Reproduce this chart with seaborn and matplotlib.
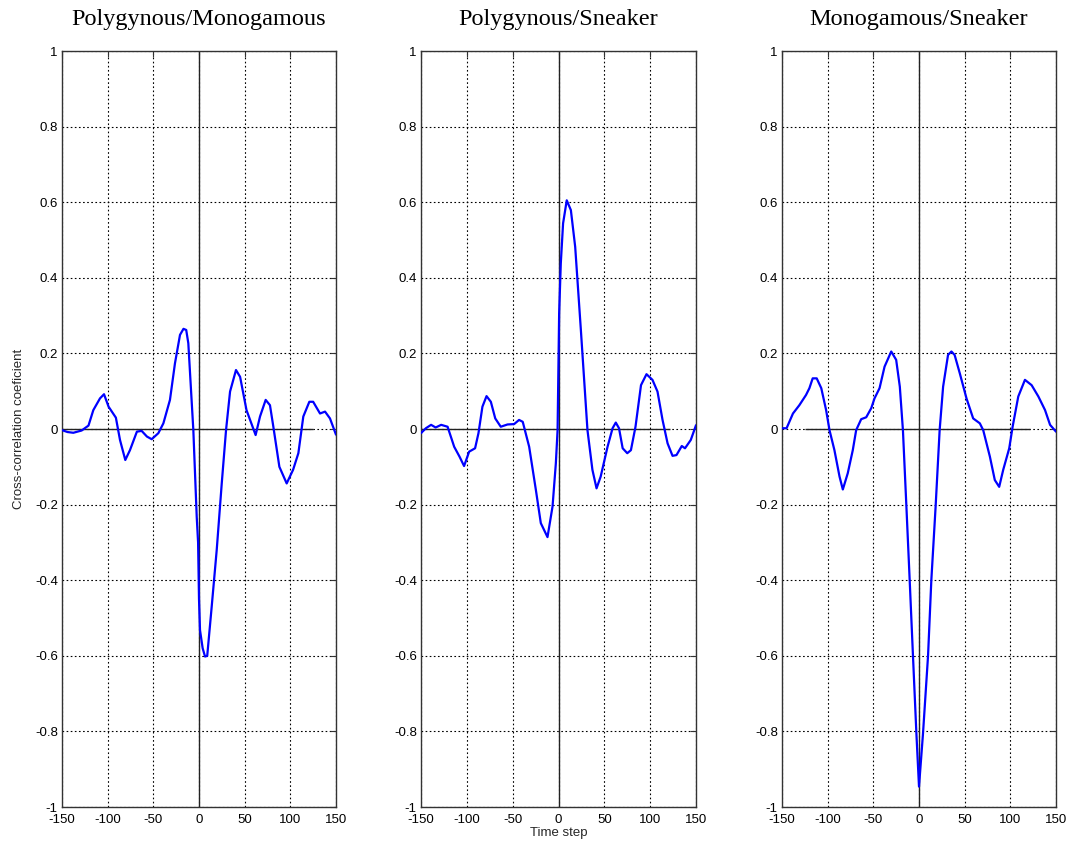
import numpy as np
import pandas as pd
import matplotlib
matplotlib.use("Agg")
import matplotlib.pyplot as plt
import seaborn as sns

# ---------------- data ----------------
titles = ["Polygynous/Monogamous", "Polygynous/Sneaker", "Monogamous/Sneaker"]

t_pm = [-150, -144, -137.6, -128.5, -121, -115.7, -108.4, -104, -99, -91, -86.5, -80.7,
        -75.6, -68, -62.8, -57, -51.8, -44.5, -39, -31.8, -26.3, -20.8, -17, -14, -11.7,
        -6.2, -2.5, -1, 0, 1.1, 4, 6.6, 9, 13.9, 19.4, 24.9, 29.6, 34, 40.5, 45, 52, 62,
        66.8, 73, 77.7, 81.4, 88, 96, 103, 108.8, 114.2, 120.8, 125, 132.5, 138, 143.4, 150]
v_pm = [-0.003, -0.008, -0.010, -0.004, 0.009, 0.05, 0.081, 0.092, 0.059, 0.03, -0.029, -0.082,
        -0.056, -0.007, -0.005, -0.02, -0.027, -0.011, 0.015, 0.077, 0.174, 0.249, 0.265, 0.262, 0.227,
        -0.003, -0.232, -0.30, -0.45, -0.532, -0.58, -0.602, -0.60, -0.47, -0.32, -0.144, -0.003, 0.099,
        0.156, 0.138, 0.05, -0.016, 0.033, 0.077, 0.063, 0.006, -0.1, -0.144, -0.108, -0.064, 0.033,
        0.072, 0.072, 0.041, 0.046, 0.028, -0.015]

t_ps = [-150, -144.7, -139, -134, -128, -121, -113.8, -108, -103, -97.5, -91, -87.3, -83, -78.5,
        -73.8, -69, -63, -55.6, -48.4, -43, -39, -32, -24.7, -19.3, -12, -6.5, -2.9, -1, 0.7, 2.5,
        5, 9, 13.5, 18.2, 24.4, 31.6, 37, 41.5, 46, 53.5, 59, 62.5, 66, 70, 75, 79, 84, 90, 96,
        102.5, 108, 113.5, 119, 124.4, 128.7, 134.5, 138, 144.3, 150]
v_ps = [-0.011, 0.002, 0.011, 0.004, 0.011, 0.006, -0.047, -0.073, -0.098, -0.06, -0.051, -0.011,
        0.059, 0.087, 0.072, 0.028, 0.006, 0.012, 0.013, 0.024, 0.019, -0.047, -0.161, -0.249,
        -0.286, -0.205, -0.091, -0.003, 0.306, 0.438, 0.544, 0.605, 0.579, 0.482, 0.262, -0.003,
        -0.108, -0.157, -0.126, -0.047, 0.002, 0.017, 0.002, -0.051, -0.064, -0.056, 0.006, 0.116,
        0.145, 0.13, 0.099, 0.024, -0.038, -0.071, -0.069, -0.045, -0.051, -0.029, 0.010]

t_ms = [-150, -145, -138, -131, -123.7, -120, -116.4, -112, -107, -101.7, -98, -92.6, -87, -83.4,
        -78, -72.5, -68.8, -63.3, -57.8, -52.3, -48.7, -43.2, -37.7, -30.4, -25, -21, -17.6, -13.8,
        -10.2, -6.6, -2.9, 0, 4.4, 9.9, 13.5, 18.2, 22.6, 26.4, 31.8, 35.5, 39, 44.7, 52, 59.3,
        66.6, 70.3, 77.6, 83, 87.8, 92.2, 98.8, 102.5, 108.7, 116, 123.3, 130.7, 138, 143.5, 150]
v_ms = [0.002, 0.002, 0.041, 0.063, 0.09, 0.108, 0.134, 0.134, 0.108, 0.05, -0.003, -0.056, -0.126,
        -0.16, -0.117, -0.056, -0.003, 0.026, 0.031, 0.055, 0.081, 0.108, 0.165, 0.205, 0.183, 0.112,
        -0.003, -0.205, -0.4, -0.6, -0.803, -0.946, -0.805, -0.6, -0.4, -0.205, -0.003, 0.112, 0.196,
        0.205, 0.196, 0.147, 0.081, 0.028, 0.015, -0.003, -0.073, -0.135, -0.153, -0.108, -0.051,
        0.006, 0.086, 0.13, 0.116, 0.086, 0.05, 0.011, -0.007]

zero_spans = [(-150, 125), (-150, 122), (-125, 122)]

x_ticks = [-150, -100, -50, 0, 50, 100, 150]
y_ticks = [-1, -0.8, -0.6, -0.4, -0.2, 0, 0.2, 0.4, 0.6, 0.8, 1]

series = [(t_pm, v_pm), (t_ps, v_ps), (t_ms, v_ms)]

# ---------------- figure ----------------
sns.set_style("white")
plt.rcParams['font.family'] = ['Liberation Sans', 'DejaVu Sans']

W, H = 1079, 842
fig = plt.figure(figsize=(W / 100, H / 100), dpi=100)

lefts = [62, 421, 782]
widths = [274, 275, 274]
top_px, bot_px = 51, 807

for i, ((tx, vy), title) in enumerate(zip(series, titles)):
    ax = fig.add_axes([lefts[i] / W, (H - bot_px) / H, widths[i] / W, (bot_px - top_px) / H])
    df = pd.DataFrame({"t": tx, "v": vy})
    ax.set_xlim(-150, 150)
    ax.set_ylim(-1, 1)
    ax.set_xticks(x_ticks)
    ax.set_yticks(y_ticks)
    ax.set_xticklabels([f"{x:g}" for x in x_ticks])
    ax.set_yticklabels([f"{y:g}" for y in y_ticks])
    ax.grid(True, linestyle=(0, (1.5, 2.2)), color="black", linewidth=0.8)
    ax.set_axisbelow(True)
    ax.axvline(0, color="#222222", linewidth=1.0, zorder=2)
    ax.hlines(0, zero_spans[i][0], zero_spans[i][1], color="#222222", linewidth=1.0, zorder=2)
    sns.lineplot(data=df, x="t", y="v", ax=ax, color="#0000ff", linewidth=1.6,
                 estimator=None, sort=False, zorder=3)
    ax.set_xlabel("")
    ax.set_ylabel("")
    for sp in ax.spines.values():
        sp.set_visible(True)
        sp.set_color("#333333")
        sp.set_linewidth(1.0)
    ax.tick_params(direction="in", length=4, width=0.8, top=True, right=True,
                   labelsize=9.5, colors="#333333", pad=3)
    ax.tick_params(axis="x", pad=5)
    for lab in ax.get_xticklabels() + ax.get_yticklabels():
        lab.set_color("black")
    ax.set_title(title, fontfamily="Liberation Serif", fontsize=17.5, pad=19, color="black")
    if i == 0:
        ax.set_ylabel("Cross-correlation coeficient", fontsize=9.5)
        ax.yaxis.set_label_coords(-0.135, 0.5)
    if i == 1:
        ax.set_xlabel("Time step", fontsize=9.5)
        ax.xaxis.set_label_coords(0.5, -0.026)

fig.savefig("out.png", dpi=100, facecolor="white")
